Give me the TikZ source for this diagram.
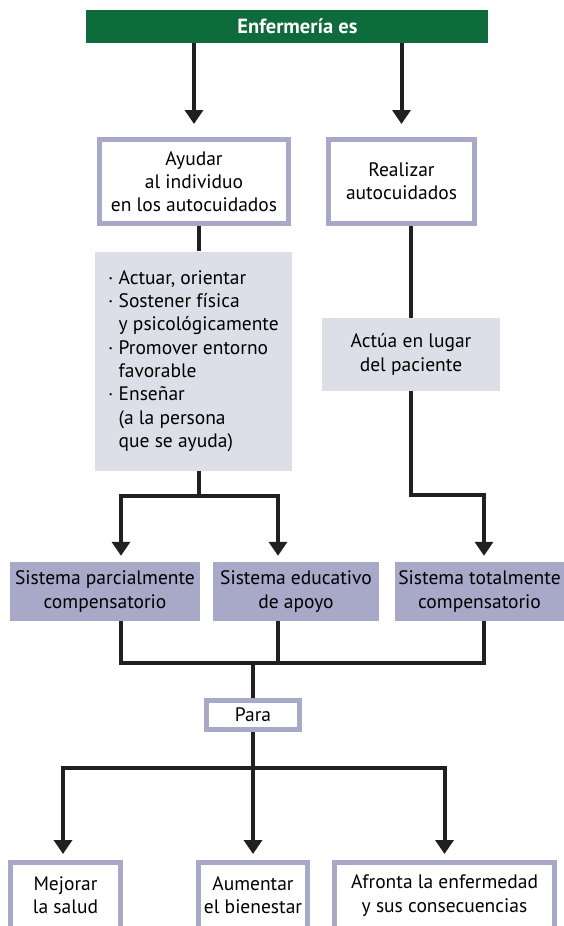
\documentclass[tikz,border=0pt]{standalone}
\usepackage{fontspec}
\setmainfont{PT Sans}
\usetikzlibrary{arrows.meta}
\definecolor{verde}{HTML}{0E6B3B}
\definecolor{lila}{HTML}{A8A8C8}
\definecolor{gris}{HTML}{DEDEE8}
\definecolor{trazo}{HTML}{231F20}
\begin{document}
\begin{tikzpicture}[x=1pt,y=-1pt,>={Triangle[width=18pt,length=14pt]},
  font=\fontsize{19.5}{23.3}\selectfont,
  caja/.style={draw=lila,line width=5pt,fill=white,align=center,inner sep=0pt},
  sist/.style={fill=lila,align=center,inner sep=0pt,minimum height=59pt},
  fondo/.style={fill=gris,inner sep=0pt},
  linea/.style={draw=trazo,line width=4pt},
  flecha/.style={linea,->,shorten >=6pt}]
\useasboundingbox (0,0) rectangle (564,926);
\clip (0,0) rectangle (564,926);
\node[fill=verde,text=white,font=\fontsize{20.5}{23}\selectfont\bfseries,minimum width=402pt,minimum height=33pt,inner sep=0pt] (enf) at (286.5,26.5) {\hspace*{22pt}Enfermería es};
\node[caja,minimum width=189pt,minimum height=84pt] (ayudar) at (194,181.5) {Ayudar\\al individuo\\en los autocuidados};
\node[caja,minimum width=146pt,minimum height=84pt] (realizar) at (401.5,181.5) {Realizar\\autocuidados};
\node[fondo,minimum width=197pt,minimum height=219pt,align=left] (acciones) at (193.5,361) {· Actuar, orientar\\· Sostener física\\\phantom{· }y psicológicamente\\· Promover entorno\\\phantom{· }favorable\\· Enseñar\\\phantom{· }(a la persona\\\phantom{· }que se ayuda)};
\node[fondo,minimum width=178pt,minimum height=73pt,align=center] (actua) at (411,354.5) {Actúa en lugar\\del paciente};
\node[sist,minimum width=190pt] (parcial) at (105,591.5) {Sistema parcialmente\\compensatorio};
\node[sist,minimum width=166pt] (educ) at (296,591.5) {Sistema educativo\\de apoyo};
\node[sist,minimum width=169pt] (total) at (479.5,591.5) {Sistema totalmente\\compensatorio};
\node[caja,minimum width=93pt,minimum height=29pt] (para) at (253,715) {Para};
\node[caja,minimum width=110pt,minimum height=66pt] (mejorar) at (65.5,895.5) {Mejorar\\la salud};
\node[caja,minimum width=109pt,minimum height=66pt] (aumentar) at (253,895.5) {Aumentar\\el bienestar};
\node[caja,minimum width=220pt,minimum height=66pt] (afronta) at (444.5,895.5) {Afronta la enfermedad\\y sus consecuencias};
\coordinate (j1) at (199,496);
\coordinate (j2) at (411,495);
\coordinate (j3) at (253,663);
\coordinate (j4) at (253,768);
\draw[flecha,shorten >=13pt] (enf.south -| ayudar.north) -- (ayudar.north);
\draw[flecha,shorten >=13pt] (enf.south -| realizar.north) -- (realizar.north);
\draw[linea] (ayudar.south -| j1) -- (acciones.north -| j1);
\draw[linea] (acciones.south -| j1) -- (j1);
\draw[flecha] (j1) -| ([xshift=16pt]parcial.north);
\draw[flecha] (j1) -| ([xshift=-18pt]educ.north);
\draw[linea] ([xshift=9.5pt]realizar.south) -- (actua.north);
\draw[flecha] (actua.south) -- (j2) -| ([xshift=4.5pt]total.north);
\draw[linea] ([xshift=16pt]parcial.south) |- ([xshift=4.5pt]total.south |- j3) -- ([xshift=4.5pt]total.south);
\draw[linea] ([xshift=-18pt]educ.south) -- ([xshift=-18pt]educ.south |- j3);
\draw[linea] (j3) -- (para.north);
\draw[linea] (para.south) -- (j4);
\draw[flecha] (j4) -| ([xshift=-2.5pt]mejorar.north);
\draw[flecha] (j4) -- (aumentar.north);
\draw[flecha] (j4) -| (afronta.north);
\end{tikzpicture}
\end{document}
